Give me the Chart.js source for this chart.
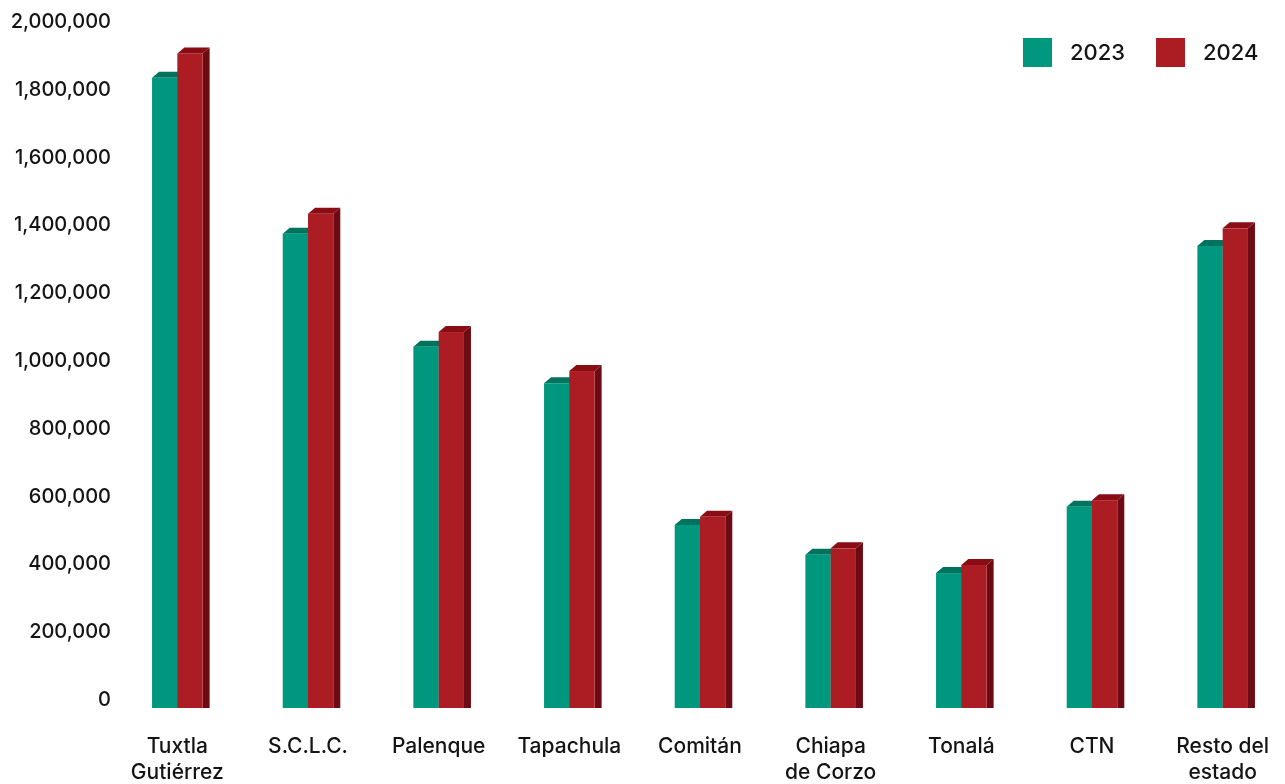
<!DOCTYPE html>
<html>
<head>
<meta charset="utf-8">
<script src="https://cdn.jsdelivr.net/npm/chart.js@4.4.1/dist/chart.umd.min.js"></script>
<style>
  html, body { margin: 0; padding: 0; background: #fff; }
  #wrap { width: 1285px; height: 784px; position: relative; }
</style>
</head>
<body>
<div id="wrap"><canvas id="chart"></canvas></div>
<script>
// --- DATA ---
const categories = [
    ['Tuxtla', 'Gutiérrez'], 'S.C.L.C.', 'Palenque', 'Tapachula', 'Comitán',
    ['Chiapa', 'de Corzo'], 'Tonalá', 'CTN', ['Resto del', 'estado']
];
const seriesNames = ['2023', '2024'];
const values2023 = [1859000, 1399000, 1066000, 958000, 540000, 452000, 398000, 594000, 1363000];
const values2024 = [1931000, 1458000, 1109000, 994000, 564000, 471000, 422000, 613000, 1415000];
const yTicks = [0, 200000, 400000, 600000, 800000, 1000000, 1200000, 1400000, 1600000, 1800000, 2000000];

// --- STYLE ---
const FONT = 'Inter, "Noto Sans", sans-serif';
const TEXT_COLOR = '#141414';
const faceColors = ['#00977f', '#ab1c23'];
const topColors = ['#00735f', '#8a0d14'];
const sideColors = ['#005a4b', '#6c0b14'];
const DEPTH_X = 7;   // depth of the 3D box
const DEPTH_Y = 6;
const DROP = 8;      // front face sits below the back plane

// draws the pseudo 3D boxes instead of the flat bars
const boxBars = {
    id: 'boxBars',
    beforeDatasetsDraw(chart) {
        const ctx = chart.ctx;
        chart.data.datasets.forEach((ds, di) => {
            const meta = chart.getDatasetMeta(di);
            meta.data.forEach(bar => {
                const p = bar.getProps(['x', 'y', 'base', 'width'], true);
                const l = p.x - p.width / 2;
                const r = p.x + p.width / 2;
                const t = p.y + DROP;
                const b = p.base + DROP;
                ctx.save();
                // top face
                ctx.fillStyle = topColors[di];
                ctx.beginPath();
                ctx.moveTo(l, t);
                ctx.lineTo(l + DEPTH_X, t - DEPTH_Y);
                ctx.lineTo(r + DEPTH_X, t - DEPTH_Y);
                ctx.lineTo(r, t);
                ctx.closePath();
                ctx.fill();
                // side face
                ctx.fillStyle = sideColors[di];
                ctx.beginPath();
                ctx.moveTo(r, t);
                ctx.lineTo(r + DEPTH_X, t - DEPTH_Y);
                ctx.lineTo(r + DEPTH_X, b);
                ctx.lineTo(r, b);
                ctx.closePath();
                ctx.fill();
                // front face
                ctx.fillStyle = faceColors[di];
                ctx.fillRect(l, t, r - l, b - t);
                ctx.restore();
            });
        });
        return false;
    }
};

// legend in the top right corner
const cornerLegend = {
    id: 'cornerLegend',
    afterDraw(chart) {
        const ctx = chart.ctx;
        const boxes = [1023, 1156];
        ctx.save();
        ctx.font = '500 22px ' + FONT;
        ctx.textBaseline = 'middle';
        ctx.textAlign = 'left';
        seriesNames.forEach((name, i) => {
            ctx.fillStyle = faceColors[i];
            ctx.fillRect(boxes[i], 38, 29, 29);
            ctx.fillStyle = TEXT_COLOR;
            ctx.fillText(name, boxes[i] + 47, 53);
        });
        ctx.restore();
    }
};

// stretch the category axis a little past the right edge, like the original
const stretchX = {
    id: 'stretchX',
    afterLayout(chart) {
        const x = chart.scales.x;
        x.left = 112;
        x.right = 1288;
        x.width = x.right - x.left;
        x.configure();
    }
};

const ctx = document.getElementById('chart').getContext('2d');
new Chart(ctx, {
    type: 'bar',
    data: {
        labels: categories,
        datasets: [
            { label: seriesNames[0], data: values2023, backgroundColor: faceColors[0] },
            { label: seriesNames[1], data: values2024, backgroundColor: faceColors[1] }
        ]
    },
    options: {
        responsive: true,
        maintainAspectRatio: false,
        animation: false,
        devicePixelRatio: 1,
        layout: { padding: { top: 22, right: 0, bottom: 0, left: 0 } },
        datasets: { bar: { categoryPercentage: 0.387, barPercentage: 1 } },
        scales: {
            x: {
                grid: { display: false, drawTicks: false },
                border: { display: false },
                ticks: {
                    color: TEXT_COLOR,
                    font: { family: FONT, size: 21, weight: 500, lineHeight: 1.27 },
                    padding: 33,
                    maxRotation: 0,
                    autoSkip: false
                },
                afterFit(scale) { scale.height = 84; }
            },
            y: {
                min: 0,
                max: 2000000,
                grid: { display: false, drawTicks: false },
                border: { display: false },
                afterBuildTicks(scale) { scale.ticks = yTicks.map(v => ({ value: v })); },
                ticks: {
                    color: TEXT_COLOR,
                    font: { family: FONT, size: 20, weight: 500 },
                    padding: 1,
                    callback: v => v.toLocaleString('en-US')
                },
                afterFit(scale) { scale.width = 112; }
            }
        },
        plugins: {
            legend: { display: false },
            tooltip: { enabled: false }
        }
    },
    plugins: [boxBars, cornerLegend, stretchX]
});
</script>
</body>
</html>
